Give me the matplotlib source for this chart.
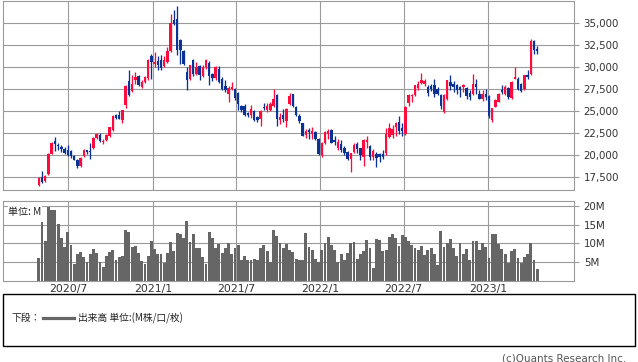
import matplotlib
matplotlib.use('Agg')
import matplotlib.pyplot as plt
import matplotlib.dates as mdates
from matplotlib.patches import Rectangle
from matplotlib.lines import Line2D
import numpy as np
import pandas as pd

# ---------------- data ----------------
dates = pd.date_range('2020-04-28', periods=156, freq='7D')

opens = [16640, 17570, 17120, 17870, 20170, 21580, 21210, 20914, 20730, 20540,
         20430, 19870, 19430, 18800, 19870, 20540, 20470, 20800, 21955, 22325,
         21470, 21730, 22215, 22880, 24555, 24520, 24000, 25663, 28374, 27282,
         28487, 28940, 27734, 28300, 28790, 31200, 30296, 30630, 30746, 30070,
         30520, 31800, 35264, 35377, 33000, 31800, 29430, 28600, 30746, 29240,
         30070, 28940, 29993, 30450, 29160, 28713, 29800, 28675, 27810, 26980,
         27545, 27545, 27090, 25550, 25557, 24730, 24540, 25030, 24277, 24127,
         25482, 25105, 25105, 25557, 26838, 23976, 24503, 23900, 25820, 26913,
         25482, 24465, 23600, 22281, 22846, 22395, 22658, 21830, 19985, 21416,
         22395, 22846, 21717, 20852, 21228, 20852, 20400, 19570, 20400, 21228,
         20776, 19834, 21529, 21040, 19759, 20098, 20135, 20098, 20211, 22018,
         22282, 23223, 23788, 23110, 22395, 25934, 26687, 26800, 27666, 28193,
         28118, 27741, 27816, 28005, 27553, 26800, 24917, 26310, 28306, 28118,
         27929, 27741, 27741, 27628, 27101, 26988, 28118, 26988, 26423, 26988,
         26687, 23976, 25482, 26047, 27365, 26913, 27628, 26535, 28682, 28682,
         28118, 27553, 29059, 29165, 32930, 32060]

highs = [17570, 18200, 17800, 20250, 21450, 22100, 21360, 21210, 20914, 21170,
         20540, 19980, 19620, 19800, 20650, 20620, 21430, 22030, 22510, 22470,
         21800, 22400, 23215, 24500, 24700, 25000, 25100, 27900, 29616, 29050,
         29430, 29050, 28487, 28940, 30940, 31500, 31690, 31200, 31310, 31200,
         32250, 35940, 36470, 36845, 33190, 31875, 29990, 30258, 30940, 30560,
         30180, 30180, 30940, 30670, 29316, 30070, 30070, 28863, 28487, 27810,
         28300, 27660, 27170, 25663, 25783, 24920, 25670, 25105, 24427, 25105,
         25933, 25858, 26047, 27553, 26913, 24729, 25180, 25294, 27100, 26988,
         25557, 24616, 23675, 22960, 23110, 23150, 22733, 21905, 21530, 22770,
         22960, 22920, 22170, 21792, 21717, 21040, 20475, 20287, 21416, 21530,
         20852, 21830, 22170, 21150, 20663, 20400, 20211, 20587, 23035, 23675,
         23411, 23788, 24428, 23600, 25557, 26988, 26988, 28005, 28382, 29360,
         28682, 27929, 28043, 28682, 27741, 26988, 26988, 28570, 29059, 28419,
         28118, 27816, 28043, 27741, 27365, 29247, 28682, 27440, 27440, 27553,
         26800, 25370, 26348, 27101, 27929, 27929, 27741, 28382, 30000, 28871,
         28193, 29059, 29699, 33190, 33005, 32330]

lows = [16570, 16900, 17010, 17800, 20100, 20470, 20620, 20360, 20100, 19870,
        19720, 19450, 18540, 18720, 19800, 20170, 19580, 20730, 21840, 21470,
        21285, 21660, 22100, 22800, 24070, 24100, 23700, 25300, 26700, 27170,
        28110, 27810, 27660, 28190, 28490, 28680, 29990, 29616, 29616, 29993,
        30450, 31690, 34700, 31310, 30370, 30180, 27430, 28487, 28940, 29050,
        28487, 28863, 29800, 27922, 28410, 28560, 28190, 27430, 27170, 26040,
        27360, 26230, 25100, 24910, 24427, 24350, 24164, 23900, 23788, 23300,
        25105, 24918, 25030, 25482, 23336, 23524, 23788, 23223, 25670, 25482,
        24427, 23675, 22168, 21906, 21830, 21830, 21717, 20060, 19835, 21265,
        21830, 21340, 21150, 20587, 20400, 20023, 19458, 18140, 20211, 20287,
        19458, 18780, 20776, 19458, 19458, 18630, 19270, 19533, 20023, 21905,
        21905, 22169, 22395, 22169, 22282, 25595, 26047, 26687, 27440, 28043,
        27854, 26687, 27290, 26612, 26800, 25200, 24729, 26235, 27365, 27176,
        26988, 26612, 27176, 26423, 26235, 26800, 26988, 26310, 26122, 26235,
        24164, 23713, 25407, 25972, 26988, 26800, 26423, 26423, 28607, 27440,
        27214, 27440, 28682, 29090, 31500, 31500]

closes = [17460, 17010, 17645, 20170, 21360, 21285, 21025, 20655, 20280, 20060,
          19950, 19500, 18760, 19720, 20540, 20360, 20360, 21950, 22400, 21580,
          21660, 22250, 23140, 24440, 24180, 24150, 25075, 27810, 26793, 28035,
          28863, 27922, 28300, 28900, 30822, 30560, 30520, 30258, 29880, 30746,
          31800, 34960, 34887, 31875, 31875, 30370, 28487, 30180, 29240, 29993,
          29050, 29993, 30746, 28940, 28790, 29993, 28300, 27545, 27430, 27660,
          27770, 26490, 25850, 25100, 24540, 24500, 25218, 23976, 23976, 24993,
          25294, 25595, 25783, 26348, 24127, 24352, 24127, 25218, 26687, 25557,
          24540, 23900, 22206, 22771, 22583, 22771, 21792, 20135, 21416, 22658,
          22771, 21416, 21454, 21530, 20587, 20287, 19570, 20211, 21153, 20663,
          20023, 21717, 21717, 19834, 20513, 19720, 19759, 19834, 22395, 23035,
          22960, 23600, 22771, 22733, 25482, 26875, 26875, 27929, 28118, 28570,
          28382, 27063, 27553, 26988, 26988, 25595, 26800, 28494, 27854, 27741,
          27365, 27440, 27929, 26687, 26612, 28118, 27741, 26423, 26988, 26612,
          24466, 25294, 26235, 26988, 27176, 27741, 26612, 28306, 28871, 27553,
          27290, 29059, 28871, 32930, 31875, 31800]

volumes_m = [6.1, 15.7, 10.6, 19.8, 18.8, 18.9, 15.2, 11.3, 9.1, 13.0,
             9.6, 4.5, 7.1, 7.7, 6.3, 5.0, 7.1, 8.4, 7.5, 5.0,
             3.7, 6.6, 7.7, 8.2, 5.5, 6.4, 6.7, 13.6, 13.0, 9.1,
             9.3, 7.3, 5.3, 4.5, 6.6, 10.6, 8.4, 7.1, 7.1, 4.8,
             7.3, 10.3, 8.0, 12.7, 12.5, 11.3, 16.0, 10.4, 12.5, 8.7,
             8.7, 6.4, 4.5, 13.0, 11.5, 8.7, 9.8, 7.5, 8.7, 10.0,
             7.1, 8.7, 9.6, 5.4, 6.6, 5.4, 5.4, 5.7, 5.5, 8.7,
             9.6, 7.8, 5.1, 13.6, 12.0, 10.0, 8.7,
             9.8, 8.1, 7.7, 5.8, 5.4, 5.5, 12.8, 8.9, 8.1, 5.8,
             4.9, 8.1, 10.1, 11.6, 9.4, 8.1, 4.9, 7.1, 5.4, 7.4,
             10.1, 10.4, 5.9, 7.1, 8.0, 10.8, 8.6, 3.4, 11.2, 11.0,
             8.0, 8.3, 11.7, 12.5, 11.4, 9.2, 12.1, 11.6, 10.5, 9.4,
             8.8, 8.3, 9.2, 6.8, 8.3, 8.8, 7.1, 4.3, 13.2, 9.0,
             10.1, 11.2, 8.8, 6.7, 10.1, 7.1, 8.5, 5.4, 10.7, 10.7,
             8.3, 10.1, 8.9, 6.1, 12.5, 12.5, 9.8, 8.5, 7.0, 4.6,
             8.0, 8.5, 6.1, 4.6, 6.4, 7.1, 10.1, 5.6, 3.2]

price_ticks = [17500, 20000, 22500, 25000, 27500, 30000, 32500, 35000]
vol_ticks = [5, 10, 15, 20]
vol_tick_labels = ['5M', '10M', '15M', '20M']
month_ticks = ['2020-07-01', '2021-01-01', '2021-07-01', '2022-01-01', '2022-07-01', '2023-01-01']
month_labels = ['2020/7', '2021/1', '2021/7', '2022/1', '2022/7', '2023/1']

# ---------------- style ----------------
UP = '#ff0a3c'
DOWN = '#0a3296'
GRID = '#9a9a9a'
TXT = '#333333'
JP = ['Noto Sans CJK JP', 'DejaVu Sans']

W, H = 638, 362
fig = plt.figure(figsize=(W / 100, H / 100), dpi=100)
fig.patch.set_facecolor('white')

ax = fig.add_axes([3 / W, 1 - 190 / H, 571 / W, 189.5 / H])
axv = fig.add_axes([3 / W, 1 - 280.7 / H, 571 / W, 79.4 / H])

x = mdates.date2num(dates)
o = np.array(opens, float)
h = np.array(highs, float)
l = np.array(lows, float)
c = np.array(closes, float)
cols = np.where(c >= o, UP, DOWN)

xt = mdates.date2num(pd.to_datetime(month_ticks))
xlim = (mdates.date2num(pd.Timestamp('2020-02-10')), mdates.date2num(pd.Timestamp('2023-07-07')))

for a in (ax, axv):
    a.set_xlim(*xlim)
    a.set_xticks(xt)
    a.grid(True, color=GRID, linewidth=0.8)
    a.set_axisbelow(True)
    for s in a.spines.values():
        s.set_color(GRID)
        s.set_linewidth(0.8)
    a.yaxis.tick_right()
    a.tick_params(axis='y', which='both', length=3.6, width=0.8, color=GRID,
                  labelcolor=TXT, labelsize=7.4, pad=3.4, left=False, labelleft=False)
    a.tick_params(axis='x', length=0, labelcolor=TXT, labelsize=7.8, pad=2.5)

# candles
ax.vlines(x, l, h, colors=cols, linewidth=0.95, zorder=2)
body_h = np.maximum(np.abs(c - o), 100)
ax.bar(x, body_h, bottom=np.minimum(o, c), width=5.3, color=cols, linewidth=0, zorder=3)
ax.set_ylim(16064, 37518)
ax.set_yticks(price_ticks)
ax.set_yticklabels([f'{v:,}' for v in price_ticks])
ax.tick_params(axis='x', labelbottom=False)

# volume
axv.bar(x, volumes_m, width=6.2, color='#666666', linewidth=0, zorder=2)
axv.set_ylim(0, 21.2)
axv.set_yticks(vol_ticks)
axv.set_yticklabels(vol_tick_labels)
axv.set_xticklabels(month_labels)

fig.text(8 / W, 1 - 211.5 / H, '単位: M', family=JP, fontsize=7.2, color='#222222',
         ha='left', va='center', zorder=5,
         bbox=dict(facecolor='white', edgecolor='none', pad=0.3))

# legend box
fig.add_artist(Rectangle((3 / W, 1 - 345.7 / H), 631.7 / W, 51.4 / H, transform=fig.transFigure,
                         facecolor='white', edgecolor='black', linewidth=1.0))
fig.text(12 / W, 1 - 318 / H, '下段：', family=JP, fontsize=7, color='#222222', ha='left', va='center')
fig.add_artist(Line2D([43 / W, 73.5 / W], [1 - 318 / H, 1 - 318 / H], transform=fig.transFigure,
                      color='#666666', linewidth=2.3))
fig.text(78 / W, 1 - 318 / H, '出来高 単位:(M株/口/枚)', family=JP, fontsize=7, color='#222222',
         ha='left', va='center')

fig.text(626 / W, 1 - 358.5 / H, '(c)Quants Research Inc.', fontsize=7.5, color='#555555',
         ha='right', va='center')

fig.savefig('out.png', dpi=100, facecolor='white')
